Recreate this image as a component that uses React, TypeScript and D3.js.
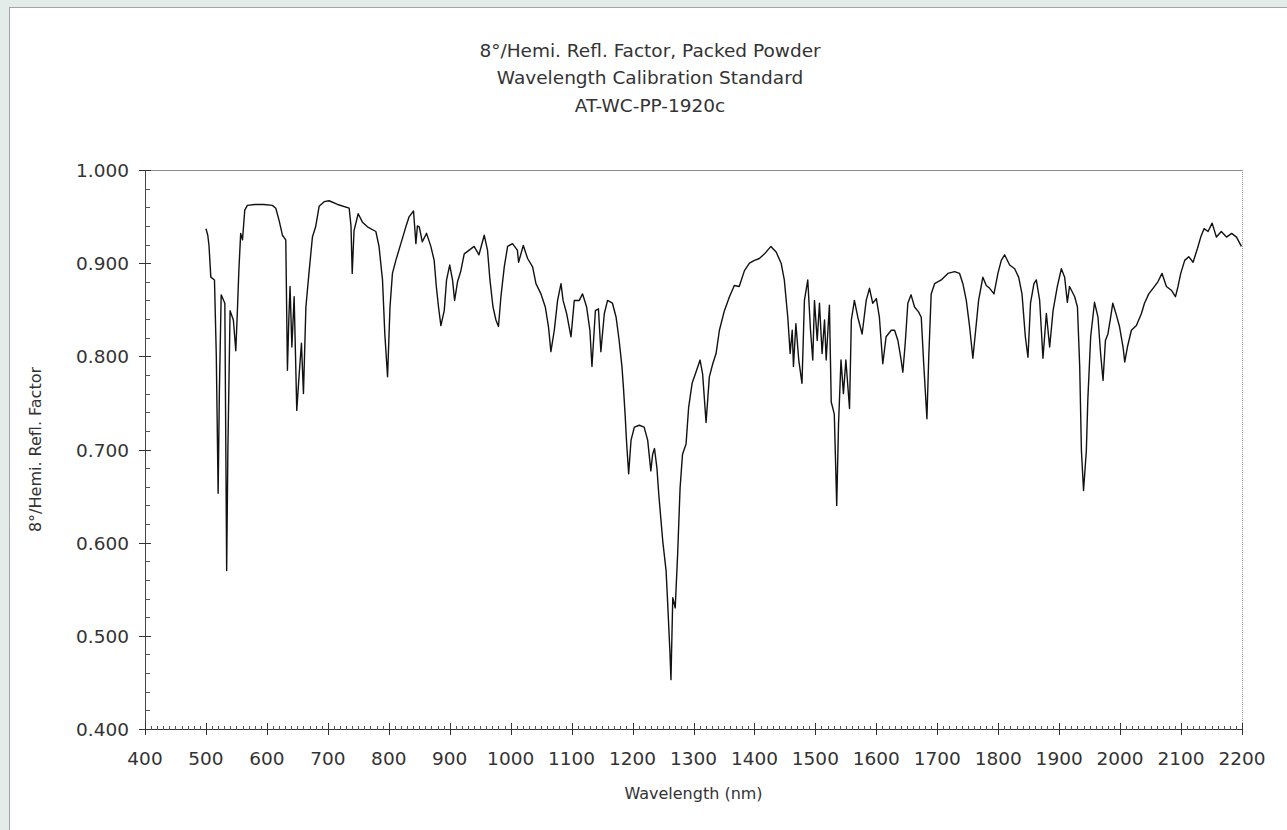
import React, { useEffect, useRef } from 'react';
import * as d3 from 'd3';

// Reflectance spectrum (nm, reflectance factor)
const wavelengths = [
  500, 503, 505, 508, 514, 517, 520, 522, 525, 531, 534, 536, 539.6, 545, 549, 551.6, 554, 557, 560, 563.7,
  568, 580, 595, 609, 614.6, 620, 625.5, 631, 633.7, 636, 638, 641, 644.7, 647, 649, 653, 656.7, 660, 664, 669,
  674.7, 680, 685.7, 694, 702, 716, 735, 738, 740, 743, 749.8, 756.8, 765, 778.8, 784, 789.7, 793.5, 798, 802, 806,
  811.6, 819.8, 828, 833.5, 840.6, 844.5, 847, 850, 855, 862, 869, 874.5, 878, 881.6, 885.5, 891, 894.8, 900, 904.6, 908,
  912.8, 918, 923.8, 932, 940, 948, 956.6, 962, 966, 971, 975.8, 980, 984, 989.5, 995, 1003, 1011, 1013, 1020.7, 1027.8,
  1036, 1041.5, 1049.7, 1056.8, 1062, 1066, 1071.6, 1077, 1082.6, 1086, 1091.8, 1099, 1104.4, 1112.6, 1118, 1124.6, 1130, 1133.4, 1139, 1144,
  1148, 1153.7, 1159, 1167, 1173, 1178, 1182.6, 1185, 1188, 1190, 1193.6, 1197.5, 1203, 1211, 1219, 1224.8, 1230, 1233, 1236, 1240,
  1243, 1249.5, 1255, 1257.7, 1261.5, 1263, 1266, 1270, 1274, 1278, 1282, 1287.8, 1292, 1297.7, 1304, 1310.8, 1315, 1320.6, 1326, 1331.6,
  1337, 1342.5, 1350.7, 1359, 1367, 1375, 1383.6, 1391.8, 1400, 1408, 1416.6, 1427, 1435.6, 1443.8, 1449, 1454.7, 1458.6, 1462, 1464, 1468,
  1472.7, 1478, 1482, 1487.5, 1492, 1495.7, 1498.5, 1503, 1506.7, 1511, 1515, 1517.7, 1523, 1526, 1531, 1535, 1538, 1542, 1546, 1550,
  1556, 1559, 1564, 1569.6, 1576.7, 1583.4, 1588.8, 1594, 1600, 1605, 1610.6, 1616, 1624.5, 1630, 1635.4, 1640, 1643.5, 1647.4, 1651.7, 1657,
  1662.7, 1669, 1673.7, 1678, 1683, 1686, 1690, 1695.6, 1706.5, 1717.4, 1728.4, 1736.6, 1742, 1747.6, 1753, 1758.4, 1763, 1767.8, 1774.8, 1780.4,
  1786, 1793, 1799.5, 1805, 1810.5, 1818.7, 1827, 1833.5, 1839, 1844.5, 1848.8, 1853, 1858.6, 1862.5, 1868, 1873.4, 1879, 1884.4, 1890, 1897,
  1903.6, 1909, 1913.4, 1917, 1925.5, 1930, 1933.7, 1936.5, 1940, 1944.6, 1947, 1951.7, 1958, 1963.7, 1968, 1972, 1975.9, 1980, 1984.5, 1988,
  1994, 1999, 2004.8, 2007.6, 2012, 2018.5, 2026.7, 2035, 2040, 2047, 2054, 2062, 2068.8, 2076, 2084, 2090.8, 2095, 2099.5, 2106, 2112.6,
  2119.7, 2127, 2132.3, 2137.7, 2144.3, 2151, 2158, 2166, 2174.6, 2183, 2191, 2199,
];

const reflectance = [
  0.937, 0.930, 0.919, 0.885, 0.882, 0.800, 0.653, 0.760, 0.866, 0.857, 0.570, 0.700, 0.849, 0.839, 0.806, 0.849, 0.892, 0.932, 0.925, 0.957,
  0.962, 0.963, 0.963, 0.962, 0.959, 0.946, 0.930, 0.925, 0.785, 0.840, 0.875, 0.810, 0.864, 0.800, 0.742, 0.781, 0.814, 0.760, 0.853, 0.889,
  0.928, 0.939, 0.961, 0.966, 0.967, 0.963, 0.959, 0.940, 0.889, 0.935, 0.953, 0.944, 0.939, 0.934, 0.918, 0.882, 0.824, 0.778, 0.853, 0.889,
  0.903, 0.921, 0.939, 0.950, 0.956, 0.921, 0.940, 0.939, 0.923, 0.932, 0.918, 0.903, 0.875, 0.853, 0.833, 0.849, 0.882, 0.898, 0.882, 0.860,
  0.880, 0.891, 0.910, 0.914, 0.918, 0.909, 0.930, 0.914, 0.882, 0.853, 0.839, 0.832, 0.864, 0.896, 0.918, 0.921, 0.914, 0.901, 0.919, 0.905,
  0.896, 0.878, 0.867, 0.853, 0.832, 0.805, 0.828, 0.860, 0.878, 0.860, 0.846, 0.821, 0.860, 0.860, 0.867, 0.853, 0.828, 0.789, 0.849, 0.851,
  0.805, 0.846, 0.860, 0.857, 0.842, 0.817, 0.789, 0.767, 0.735, 0.710, 0.674, 0.710, 0.724, 0.726, 0.724, 0.710, 0.677, 0.695, 0.701, 0.680,
  0.652, 0.602, 0.570, 0.534, 0.480, 0.453, 0.541, 0.530, 0.588, 0.659, 0.695, 0.706, 0.745, 0.771, 0.783, 0.796, 0.781, 0.729, 0.778, 0.792,
  0.803, 0.828, 0.849, 0.864, 0.876, 0.875, 0.892, 0.900, 0.903, 0.905, 0.910, 0.918, 0.912, 0.900, 0.882, 0.842, 0.803, 0.828, 0.789, 0.835,
  0.796, 0.771, 0.860, 0.882, 0.828, 0.796, 0.860, 0.817, 0.857, 0.803, 0.839, 0.796, 0.855, 0.751, 0.738, 0.640, 0.728, 0.796, 0.760, 0.796,
  0.744, 0.839, 0.860, 0.842, 0.824, 0.860, 0.873, 0.857, 0.862, 0.842, 0.792, 0.821, 0.828, 0.828, 0.817, 0.799, 0.783, 0.814, 0.857, 0.866,
  0.853, 0.848, 0.842, 0.789, 0.733, 0.799, 0.867, 0.878, 0.882, 0.889, 0.891, 0.889, 0.878, 0.860, 0.832, 0.798, 0.828, 0.860, 0.885, 0.876,
  0.873, 0.867, 0.889, 0.903, 0.909, 0.898, 0.894, 0.885, 0.867, 0.821, 0.799, 0.857, 0.878, 0.882, 0.860, 0.798, 0.846, 0.810, 0.849, 0.875,
  0.894, 0.885, 0.858, 0.875, 0.864, 0.853, 0.789, 0.699, 0.656, 0.699, 0.753, 0.821, 0.858, 0.842, 0.803, 0.774, 0.817, 0.824, 0.842, 0.857,
  0.844, 0.832, 0.810, 0.794, 0.810, 0.828, 0.833, 0.846, 0.857, 0.867, 0.873, 0.880, 0.889, 0.875, 0.871, 0.864, 0.875, 0.889, 0.903, 0.907,
  0.901, 0.916, 0.928, 0.937, 0.934, 0.943, 0.928, 0.934, 0.928, 0.932, 0.928, 0.918,
];

const titleLines = [
  '8°/Hemi. Refl. Factor, Packed Powder',
  'Wavelength Calibration Standard',
  'AT-WC-PP-1920c',
];
const xLabel = 'Wavelength (nm)';
const yLabel = '8°/Hemi. Refl. Factor';

const WIDTH = 1287;
const HEIGHT = 830;
const FONT = '"DejaVu Sans", Verdana, sans-serif';

const App: React.FC = () => {
  const svgRef = useRef<SVGSVGElement>(null);

  useEffect(() => {
    if (!svgRef.current) return;
    const svg = d3.select(svgRef.current);
    svg.selectAll('*').remove();

    // page + panel frame
    svg.append('rect').attr('width', WIDTH).attr('height', HEIGHT).attr('fill', '#e4ece9');
    svg.append('rect')
      .attr('x', 9.5).attr('y', 7.5)
      .attr('width', WIDTH).attr('height', HEIGHT)
      .attr('fill', '#ffffff')
      .attr('stroke', '#555')
      .attr('stroke-dasharray', '1 1');

    const x = d3.scaleLinear().domain([400, 2200]).range([145, 1242]);
    const y = d3.scaleLinear().domain([0.4, 1.0]).range([729, 170]);

    // title
    svg.append('g')
      .selectAll('text')
      .data(titleLines)
      .enter()
      .append('text')
      .attr('x', 650)
      .attr('y', (_, i) => 56.5 + i * 27.6)
      .attr('text-anchor', 'middle')
      .attr('font-family', FONT)
      .attr('font-size', 18.5)
      .attr('fill', '#333')
      .text(d => d);

    // top + right frame of the plot
    svg.append('line')
      .attr('x1', x(400)).attr('x2', x(2200))
      .attr('y1', y(1.0) + 0.5).attr('y2', y(1.0) + 0.5)
      .attr('stroke', '#8a8a8a');
    svg.append('line')
      .attr('x1', x(2200) + 0.5).attr('x2', x(2200) + 0.5)
      .attr('y1', y(1.0)).attr('y2', y(0.4))
      .attr('stroke', '#999')
      .attr('stroke-dasharray', '1 1');

    // y axis
    const yMinor = d3.range(0.4, 1.0001, 0.02);
    const yMajor = y.ticks(6);
    svg.append('line')
      .attr('x1', x(400) + 0.5).attr('x2', x(400) + 0.5)
      .attr('y1', y(1.0)).attr('y2', y(0.4))
      .attr('stroke', '#444');
    svg.append('g')
      .selectAll('line')
      .data(yMinor)
      .enter()
      .append('line')
      .attr('x1', x(400)).attr('x2', x(400) + 5)
      .attr('y1', d => Math.round(y(d)) + 0.5).attr('y2', d => Math.round(y(d)) + 0.5)
      .attr('stroke', '#555');
    svg.append('g')
      .selectAll('line')
      .data(yMajor)
      .enter()
      .append('line')
      .attr('x1', x(400) - 6).attr('x2', x(400) + 6)
      .attr('y1', d => Math.round(y(d)) + 0.5).attr('y2', d => Math.round(y(d)) + 0.5)
      .attr('stroke', '#333');
    svg.append('g')
      .selectAll('text')
      .data(yMajor)
      .enter()
      .append('text')
      .attr('x', 129)
      .attr('y', d => y(d) + 7)
      .attr('text-anchor', 'end')
      .attr('font-family', FONT)
      .attr('font-size', 18.5)
      .attr('fill', '#333')
      .text(d => d3.format('.3f')(d));

    // x axis
    const xMinor = d3.range(400, 2201, 10);
    const xMajor = x.ticks(18);
    svg.append('line')
      .attr('x1', x(400)).attr('x2', x(2200))
      .attr('y1', y(0.4) + 0.5).attr('y2', y(0.4) + 0.5)
      .attr('stroke', '#333');
    svg.append('g')
      .selectAll('line')
      .data(xMinor)
      .enter()
      .append('line')
      .attr('x1', d => Math.round(x(d)) + 0.5).attr('x2', d => Math.round(x(d)) + 0.5)
      .attr('y1', y(0.4) - 3).attr('y2', y(0.4) + 1)
      .attr('stroke', '#555');
    svg.append('g')
      .selectAll('line')
      .data(xMajor)
      .enter()
      .append('line')
      .attr('x1', d => Math.round(x(d)) + 0.5).attr('x2', d => Math.round(x(d)) + 0.5)
      .attr('y1', y(0.4) - 6).attr('y2', y(0.4) + 6)
      .attr('stroke', '#333');
    svg.append('g')
      .selectAll('text')
      .data(xMajor)
      .enter()
      .append('text')
      .attr('x', d => x(d))
      .attr('y', 765)
      .attr('text-anchor', 'middle')
      .attr('font-family', FONT)
      .attr('font-size', 18.5)
      .attr('fill', '#333')
      .text(d => String(d));

    // axis titles
    svg.append('text')
      .attr('x', (x(400) + x(2200)) / 2)
      .attr('y', 799)
      .attr('text-anchor', 'middle')
      .attr('font-family', FONT)
      .attr('font-size', 16)
      .attr('fill', '#333')
      .text(xLabel);
    svg.append('text')
      .attr('transform', `translate(41, ${(y(0.4) + y(1.0)) / 2}) rotate(-90)`)
      .attr('text-anchor', 'middle')
      .attr('font-family', FONT)
      .attr('font-size', 16)
      .attr('fill', '#333')
      .text(yLabel);

    // spectrum
    const points = wavelengths.map((w, i) => [w, reflectance[i]] as [number, number]);
    const line = d3.line<[number, number]>()
      .x(d => x(d[0]))
      .y(d => y(d[1]));
    svg.append('path')
      .datum(points)
      .attr('fill', 'none')
      .attr('stroke', '#111')
      .attr('stroke-width', 1.4)
      .attr('stroke-linejoin', 'round')
      .attr('d', line);
  }, []);

  return (
    <svg
      ref={svgRef}
      width={WIDTH}
      height={HEIGHT}
      style={{ position: 'absolute', left: 0, top: 0, display: 'block' }}
    />
  );
};

export default App;
